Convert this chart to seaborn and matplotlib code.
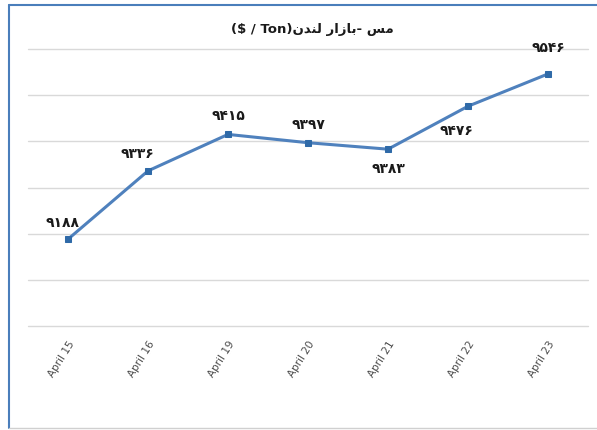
import pandas as pd
import seaborn as sns
import matplotlib.pyplot as plt
from matplotlib.lines import Line2D

dates = ["April 15", "April 16", "April 19", "April 20", "April 21", "April 22", "April 23"]
prices = [9188, 9336, 9415, 9397, 9383, 9476, 9546]
labels = ["۹۱۸۸", "۹۳۳۶", "۹۴۱۵", "۹۳۹۷", "۹۳۸۳", "۹۴۷۶", "۹۵۴۶"]

# title in visual order (presentation forms, matplotlib has no arabic shaping)
title = "($ / Ton)" + "\uFEE5\uFEAA\uFEE8\uFEDF" + " " + "\uFEAD\uFE8D\uFEAF\uFE8E\uFE91" + "- " + "\uFEB2\uFEE3"

df = pd.DataFrame({"date": dates, "price": prices})

sns.set_style("white")
plt.rcParams["font.family"] = ["DejaVu Sans"]

fig = plt.figure(figsize=(5.97, 4.30), dpi=100)
ax = fig.add_axes([28 / 597, 1 - 326 / 430, 560 / 597, 277 / 430])

sns.lineplot(data=df, x="date", y="price", sort=False, ax=ax,
             color="#4F81BD", linewidth=2.2, marker="s", markersize=5,
             markerfacecolor="#2F6AA8", markeredgecolor="#2F6AA8")

ax.set_xlim(-0.5, 6.5)
ax.set_ylim(9000, 9600)
for y in range(9000, 9601, 100):
    ax.axhline(y, color="#D9D9D9", linewidth=1, zorder=0, clip_on=False)
ax.set_yticks([])
ax.tick_params(axis="x", bottom=False, labelsize=7.5, labelcolor="#4a4a4a", pad=6)
plt.setp(ax.get_xticklabels(), rotation=58, ha="right", rotation_mode="anchor")
ax.set_xlabel("")
ax.set_ylabel("")
for s in ax.spines.values():
    s.set_visible(False)

offsets = [(-4, 12), (-8, 12), (0, 13), (0, 13), (0, -14), (-8, -18), (0, 19)]
for i, (v, lab) in enumerate(zip(prices, labels)):
    ax.annotate(lab, (i, v), xytext=offsets[i], textcoords="offset points",
                ha="center", va="center", fontsize=10, fontweight="bold", color="#1a1a1a")

fig.text(0.5 + 14 / 597, 1 - 30 / 430, title, ha="center", va="center",
         fontsize=9.5, fontweight="bold", color="#1a1a1a")

# frame around the chart
fig.add_artist(Line2D([8.5 / 597, 8.5 / 597], [1 - 5 / 430, 1 - 428 / 430], color="#4A7EBB", linewidth=1.5))
fig.add_artist(Line2D([8.5 / 597, 1], [1 - 5 / 430, 1 - 5 / 430], color="#4A7EBB", linewidth=1.5))
fig.add_artist(Line2D([8.5 / 597, 1], [1 - 428 / 430, 1 - 428 / 430], color="#D0D0D0", linewidth=1))

fig.savefig("out.png", dpi=100)
